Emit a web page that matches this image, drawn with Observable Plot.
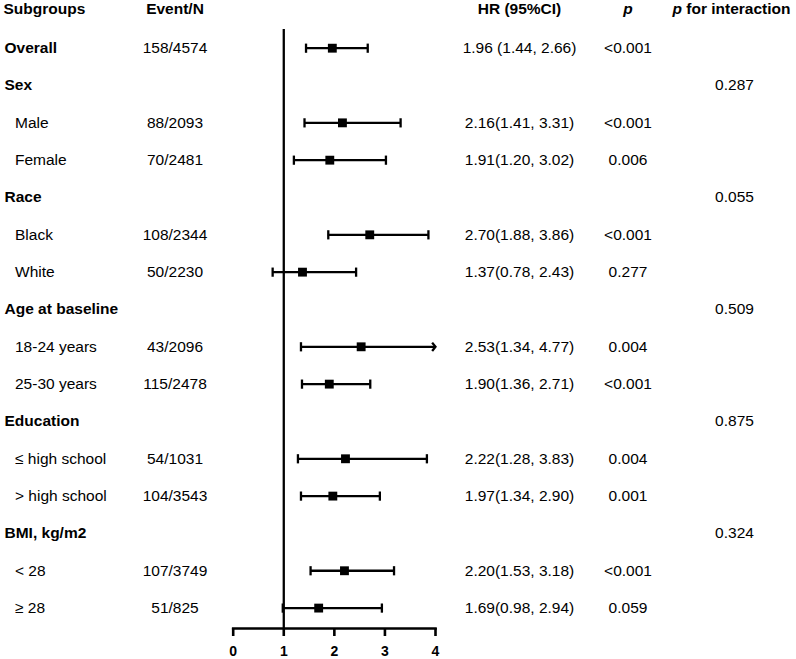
<!DOCTYPE html>
<html>
<head>
<meta charset="utf-8">
<script src="https://cdn.jsdelivr.net/npm/d3@7"></script>
<script src="https://cdn.jsdelivr.net/npm/@observablehq/plot@0.6"></script>
<style>
  html, body { margin: 0; padding: 0; background: #fff; }
  #chart svg { display: block; }
</style>
</head>
<body>
<div id="chart"></div>
<script>
// ---------- data ----------
const headers = ["Subgroups", "Event/N", "HR (95%CI)", "p", "p for interaction"];
const labels = ["Overall", "Sex", "Male", "Female", "Race", "Black", "White",
  "Age at baseline", "18-24 years", "25-30 years", "Education", "≤ high school",
  "> high school", "BMI, kg/m2", "< 28", "≥ 28"];
const isGroup = [true, true, false, false, true, false, false, true, false, false,
  true, false, false, true, false, false];
const eventN = ["158/4574", "", "88/2093", "70/2481", "", "108/2344", "50/2230", "",
  "43/2096", "115/2478", "", "54/1031", "104/3543", "", "107/3749", "51/825"];
const hr = [1.96, null, 2.16, 1.91, null, 2.70, 1.37, null, 2.53, 1.90, null, 2.22, 1.97, null, 2.20, 1.69];
const lo = [1.44, null, 1.41, 1.20, null, 1.88, 0.78, null, 1.34, 1.36, null, 1.28, 1.34, null, 1.53, 0.98];
const hi = [2.66, null, 3.31, 3.02, null, 3.86, 2.43, null, 4.77, 2.71, null, 3.83, 2.90, null, 3.18, 2.94];
const hrText = ["1.96 (1.44, 2.66)", "", "2.16(1.41, 3.31)", "1.91(1.20, 3.02)", "",
  "2.70(1.88, 3.86)", "1.37(0.78, 2.43)", "", "2.53(1.34, 4.77)", "1.90(1.36, 2.71)", "",
  "2.22(1.28, 3.83)", "1.97(1.34, 2.90)", "", "2.20(1.53, 3.18)", "1.69(0.98, 2.94)"];
const pText = ["<0.001", "", "<0.001", "0.006", "", "<0.001", "0.277", "", "0.004",
  "<0.001", "", "0.004", "0.001", "", "<0.001", "0.059"];
const pInter = ["", "0.287", "", "", "0.055", "", "", "0.509", "", "", "0.875", "", "", "0.324", "", ""];
const xTicks = [0, 1, 2, 3, 4];
const refValue = 1;

// ---------- layout ----------
const W = 796, H = 659;
const ML = 232.7, MR = W - 435, MT = 10.37, MB = 31;
const yMax = 16.547;            // axis sits a little below the last row
const FS = 15.5;
const col = { group: 4, item: 14.5, event: 174.5, hr: 519, p: 627.5, pint: 734, pintStart: 672 };
const off = (px) => px - ML;

const rows = labels.map((label, k) => ({
  i: k + 1, label, group: isGroup[k], ev: eventN[k], hr: hr[k], lo: lo[k], hi: hi[k],
  hrText: hrText[k], p: pText[k], pint: pInter[k]
}));
const est = rows.filter(d => d.hr != null);
const xMax = d3.max(xTicks);

const vbar = { draw(ctx, size) { const h = Math.sqrt(size / Math.PI); ctx.moveTo(0, -h); ctx.lineTo(0, h); } };
const arrow = { draw(ctx, size) { const h = Math.sqrt(size / Math.PI); ctx.moveTo(-h * 0.8, -h); ctx.lineTo(0, 0); ctx.lineTo(-h * 0.8, h); } };

const txt = { fill: "#000", fontSize: FS, frameAnchor: "left", y: "i" };
const LW = 2.3;

const chart = Plot.plot({
  width: W, height: H,
  marginLeft: ML, marginRight: MR, marginTop: MT, marginBottom: MB,
  style: { fontFamily: "'Liberation Sans', Arial, sans-serif", fontSize: FS + "px", color: "#000", background: "#fff" },
  x: { domain: [0, xMax], ticks: xTicks },
  y: { domain: [0, yMax], reverse: true, axis: null },
  marks: [
    Plot.ruleX([refValue], { y1: 0.5, y2: yMax, stroke: "#000", strokeWidth: 2.3 }),
    Plot.frame({ anchor: "bottom", stroke: "#000", strokeWidth: 2.6 }),
    Plot.axisX({ ticks: xTicks, tickSize: 8, stroke: "#000", strokeWidth: 2.6, tickFormat: () => "", label: null }),
    Plot.text(xTicks, { x: d => d, frameAnchor: "bottom", lineAnchor: "top", dy: 17.5, text: d => String(d),
      fill: "#000", fontSize: 14, fontWeight: "bold" }),
    // CI lines
    Plot.ruleY(est, { y: "i", x1: "lo", x2: d => Math.min(d.hi, xMax), stroke: "#000", strokeWidth: LW }),
    Plot.dot(est, { x: "lo", y: "i", symbol: vbar, r: 4.6, stroke: "#000", strokeWidth: LW, fill: "none" }),
    Plot.dot(est.filter(d => d.hi <= xMax), { x: "hi", y: "i", symbol: vbar, r: 4.6, stroke: "#000", strokeWidth: LW, fill: "none" }),
    Plot.dot(est.filter(d => d.hi > xMax), { x: () => xMax, y: "i", symbol: arrow, r: 4.2, stroke: "#000", strokeWidth: LW, fill: "none" }),
    Plot.dot(est, { x: "hr", y: "i", symbol: "square", r: 5, fill: "#000", stroke: "none" }),
    // header row
    Plot.text([headers[0]], { ...txt, y: () => 0, text: d => d, dy: -2, fontWeight: "bold", textAnchor: "start", dx: off(3) }),
    Plot.text([headers[1]], { ...txt, y: () => 0, text: d => d, dy: -2, fontWeight: "bold", textAnchor: "middle", dx: off(col.event) }),
    Plot.text([headers[2]], { ...txt, y: () => 0, text: d => d, dy: -2, fontWeight: "bold", textAnchor: "middle", dx: off(col.hr) }),
    Plot.text([headers[3]], { ...txt, y: () => 0, text: d => d, dy: -2, fontWeight: "bold", fontStyle: "italic", textAnchor: "middle", dx: off(col.p) }),
    Plot.text([headers[4].split(" ")[0]], { ...txt, y: () => 0, text: d => d, dy: -2, fontWeight: "bold", fontStyle: "italic", textAnchor: "start", dx: off(col.pintStart) }),
    Plot.text([headers[4].split(" ").slice(1).join(" ")], { ...txt, y: () => 0, text: d => d, dy: -2, fontWeight: "bold", textAnchor: "start", dx: off(col.pintStart + 13.8) }),
    // rows
    Plot.text(rows.filter(d => d.group), { ...txt, text: "label", fontWeight: "bold", textAnchor: "start", dx: off(col.group) }),
    Plot.text(rows.filter(d => !d.group), { ...txt, text: "label", textAnchor: "start", dx: off(col.item) }),
    Plot.text(rows, { ...txt, text: "ev", textAnchor: "middle", dx: off(col.event) }),
    Plot.text(rows, { ...txt, text: "hrText", textAnchor: "middle", dx: off(col.hr) }),
    Plot.text(rows, { ...txt, text: "p", textAnchor: "middle", dx: off(col.p) }),
    Plot.text(rows, { ...txt, text: "pint", textAnchor: "middle", dx: off(col.pint) })
  ]
});
document.getElementById("chart").appendChild(chart);
</script>
</body>
</html>
